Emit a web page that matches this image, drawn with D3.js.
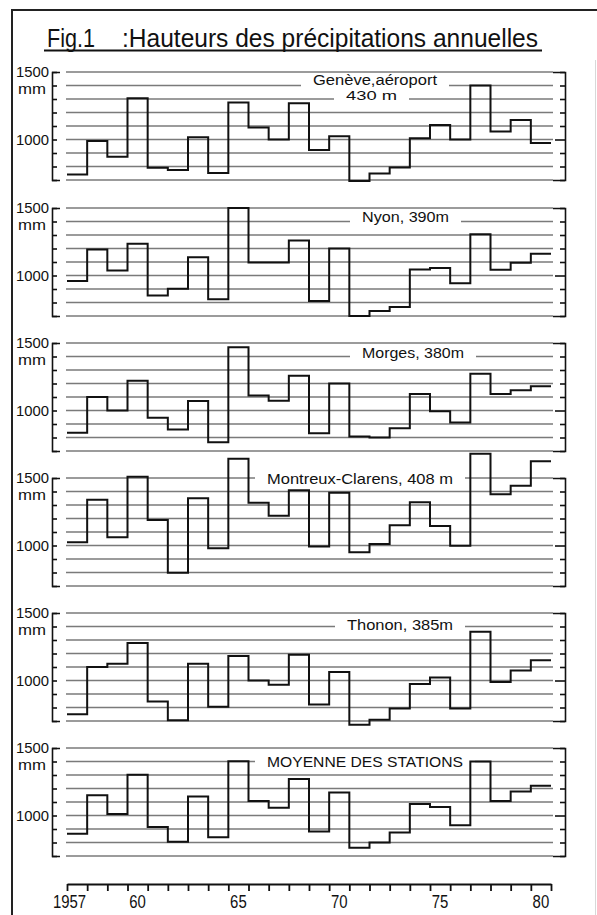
<!DOCTYPE html>
<html>
<head>
<meta charset="utf-8">
<script src="https://cdn.jsdelivr.net/npm/d3@7"></script>
<style>
  body { margin: 0; background: #fff; }
  svg { display: block; }
  text { fill: #111; }
</style>
</head>
<body>
<div id="chart"></div>
<script>
'use strict'

// years and annual precipitation (mm)
const years = [1957, 1958, 1959, 1960, 1961, 1962, 1963, 1964, 1965, 1966, 1967, 1968,
  1969, 1970, 1971, 1972, 1973, 1974, 1975, 1976, 1977, 1978, 1979, 1980]
const yearLabels = ['1957', '60', '65', '70', '75', '80']
const yearLabelValues = [1957, 1960, 1965, 1970, 1975, 1980]

const geneve = [740, 988, 873, 1305, 790, 775, 1017, 752, 1275, 1088, 1000, 1268,
  922, 1025, 692, 748, 792, 1010, 1108, 1000, 1400, 1060, 1145, 975]
const nyon = [960, 1193, 1037, 1236, 851, 902, 1135, 825, 1500, 1097, 1097, 1260,
  812, 1200, 700, 737, 767, 1045, 1055, 942, 1305, 1042, 1095, 1162]
const morges = [836, 1100, 1000, 1220, 946, 860, 1070, 765, 1468, 1112, 1072, 1258,
  832, 1200, 807, 800, 868, 1122, 995, 912, 1272, 1122, 1150, 1180]
const montreux = [1025, 1338, 1062, 1510, 1188, 798, 1350, 980, 1642, 1317, 1220, 1410,
  993, 1390, 950, 1012, 1150, 1320, 1145, 998, 1680, 1380, 1442, 1625]
const thonon = [750, 1100, 1125, 1278, 845, 705, 1125, 805, 1182, 1000, 968, 1190,
  822, 1063, 672, 710, 793, 975, 1022, 792, 1362, 988, 1075, 1150]
const moyenne = [865, 1150, 1012, 1302, 915, 805, 1140, 838, 1402, 1107, 1057, 1270,
  882, 1170, 762, 800, 875, 1086, 1063, 928, 1400, 1107, 1177, 1220]

const stationSeries = [geneve, nyon, morges, montreux, thonon, moyenne]
const stationNames = [
  ['Genève,aéroport', '430 m'],
  ['Nyon, 390m'],
  ['Morges, 380m'],
  ['Montreux-Clarens, 408 m'],
  ['Thonon, 385m'],
  ['MOYENNE DES STATIONS']
]
const gridValues = [700, 800, 900, 1000, 1100, 1200, 1300, 1400, 1500]

// layout
const width = 597
const height = 915
const panelTops = [72, 208, 343, 478, 613, 748]
const panelH = 108
const x0 = 67
const x1 = 551
const leftAxisX = 52
const rightAxisX = 565
const bottomAxisY = 884
const font = 'Liberation Sans, Arial, sans-serif'

// label placement per panel: x start, baseline offset below the 1500 line, width, size
const labelPos = [
  [{ x: 313, dy: 13, w: 124, s: 14 }, { x: 346, dy: 27.5, w: 51, s: 13 }],
  [{ x: 362, dy: 14, w: 87, s: 15 }],
  [{ x: 362, dy: 15, w: 102, s: 15 }],
  [{ x: 267, dy: 6, w: 186, s: 15 }],
  [{ x: 347, dy: 17, w: 106, s: 15 }],
  [{ x: 267, dy: 19, w: 196, s: 15 }]
]

const svg = d3.select('#chart').append('svg')
  .attr('width', width)
  .attr('height', height)

// frame
svg.append('line').attr('x1', 12).attr('x2', 12).attr('y1', 9).attr('y2', height)
  .attr('stroke', '#222').attr('stroke-width', 2)
svg.append('line').attr('x1', 11).attr('x2', width).attr('y1', 10).attr('y2', 10)
  .attr('stroke', '#222').attr('stroke-width', 2)
svg.append('line').attr('x1', 595.5).attr('x2', 595.5).attr('y1', 60).attr('y2', height)
  .attr('stroke', '#d8d8d8').attr('stroke-width', 1)

// title
svg.append('text').attr('x', 47).attr('y', 47)
  .attr('font-family', font)
  .attr('font-size', 25)
  .attr('textLength', 48).attr('lengthAdjust', 'spacingAndGlyphs')
  .text('Fig.1')
svg.append('text').attr('x', 122).attr('y', 47)
  .attr('font-family', font)
  .attr('font-size', 25)
  .attr('textLength', 416).attr('lengthAdjust', 'spacingAndGlyphs')
  .text(':Hauteurs des précipitations annuelles')
svg.append('line').attr('x1', 44).attr('x2', 542).attr('y1', 50.5).attr('y2', 50.5)
  .attr('stroke', '#111').attr('stroke-width', 1.8)

const x = d3.scaleLinear().domain([1957, 1981]).range([x0, x1])

stationSeries.forEach(function (values, p) {
  const top = panelTops[p]
  const y = d3.scaleLinear().domain([1500, 700]).range([top, top + panelH])
  const g = svg.append('g')

  // gridlines
  g.selectAll('line.grid').data(gridValues).enter().append('line')
    .attr('class', 'grid')
    .attr('x1', 66).attr('x2', 553)
    .attr('y1', d => y(d)).attr('y2', d => y(d))
    .attr('stroke', '#7a7a7a').attr('stroke-width', 1.3)

  // left axis
  g.append('g')
    .attr('transform', 'translate(' + leftAxisX + ',0)')
    .call(d3.axisRight(y).tickValues(gridValues).tickSize(5).tickSizeOuter(8).tickFormat(''))
    .call(a => a.selectAll('path,line').attr('stroke', '#111').attr('stroke-width', 1.6))

  // right axis, longer tick at 1000
  g.append('g')
    .attr('transform', 'translate(' + rightAxisX + ',0)')
    .call(d3.axisLeft(y).tickValues(gridValues).tickSize(5).tickSizeOuter(12).tickFormat(''))
    .call(a => a.selectAll('path,line').attr('stroke', '#111').attr('stroke-width', 1.6))
    .call(a => a.selectAll('.tick line').filter(d => d === 1000).attr('x2', -10))

  // axis labels
  g.append('text').attr('x', 49).attr('y', y(1500) + 5)
    .attr('text-anchor', 'end').attr('font-family', font)
    .attr('font-size', 14).attr('textLength', 33).attr('lengthAdjust', 'spacingAndGlyphs')
    .text('1500')
  g.append('text').attr('x', 46).attr('y', y(1500) + 22)
    .attr('text-anchor', 'end').attr('font-family', font)
    .attr('font-size', 14).attr('textLength', 28).attr('lengthAdjust', 'spacingAndGlyphs')
    .text('mm')
  g.append('text').attr('x', 49).attr('y', y(1000) + 5.5)
    .attr('text-anchor', 'end').attr('font-family', font)
    .attr('font-size', 14).attr('textLength', 33).attr('lengthAdjust', 'spacingAndGlyphs')
    .text('1000')

  // station label backgrounds
  labelPos[p].forEach(function (pos) {
    g.append('rect')
      .attr('x', pos.x - 12).attr('y', top + pos.dy - 9)
      .attr('width', pos.w + 24).attr('height', 12)
      .attr('fill', '#fff')
  })

  // step line
  const stepData = values.map((v, i) => [years[i], v])
  stepData.push([1981, values[values.length - 1]])
  const line = d3.line()
    .x(d => x(d[0]))
    .y(d => y(d[1]))
    .curve(d3.curveStepAfter)
  g.append('path')
    .datum(stepData)
    .attr('d', line)
    .attr('fill', 'none')
    .attr('stroke', '#111')
    .attr('stroke-width', 2)

  // station label text
  labelPos[p].forEach(function (pos, i) {
    g.append('text')
      .attr('x', pos.x).attr('y', top + pos.dy)
      .attr('font-family', font)
      .attr('font-size', pos.s)
      .attr('textLength', pos.w).attr('lengthAdjust', 'spacingAndGlyphs')
      .text(stationNames[p][i])
  })
})

// bottom year axis
const xAxisG = svg.append('g')
  .attr('transform', 'translate(0,' + bottomAxisY + ')')
  .call(d3.axisBottom(x).tickValues(years.concat([1981])).tickSize(7).tickSizeOuter(0).tickFormat(''))
xAxisG.selectAll('path,line').attr('stroke', '#111').attr('stroke-width', 1.8)

svg.selectAll('text.year').data(yearLabelValues).enter().append('text')
  .attr('class', 'year')
  .attr('x', (d, i) => i === 0 ? x(d + 0.5) + 9 : x(d + 0.5))
  .attr('y', 908)
  .attr('text-anchor', (d, i) => i === 0 ? 'end' : 'middle')
  .attr('font-family', font)
  .attr('font-size', 18)
  .attr('textLength', (d, i) => yearLabels[i].length * 8.3)
  .attr('lengthAdjust', 'spacingAndGlyphs')
  .text((d, i) => yearLabels[i])
</script>
</body>
</html>
